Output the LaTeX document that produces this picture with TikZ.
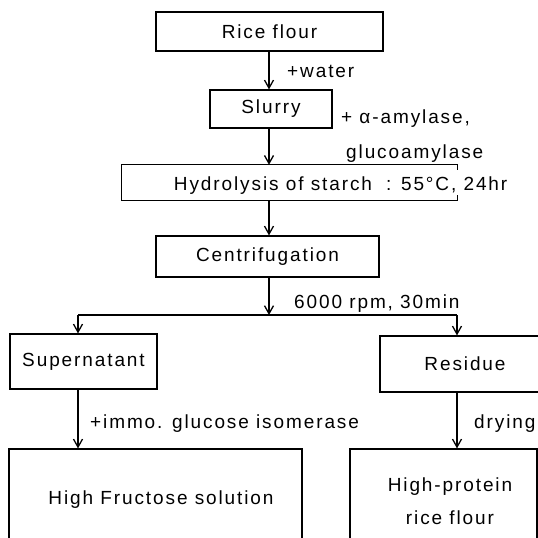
\documentclass[tikz,border=0pt]{standalone}
\usepackage{fontspec}
\setmainfont{Liberation Sans}
\newfontfamily\df[LetterSpace=10]{Liberation Sans}
\usetikzlibrary{arrows.meta}
\begin{document}
\begin{tikzpicture}[x=1pt,y=-1pt,
  txt/.style={font=\df\fontsize{19}{26}\selectfont},
  box/.style={draw, line width=1.2pt, inner sep=0pt, align=center, txt},
  lbl/.style={inner sep=0pt, txt},
  arr/.style={line width=1.3pt, -{Straight Barb[length=8pt,width=9pt,line width=1.3pt]}},
  ln/.style={line width=1.3pt}]
\useasboundingbox (0,0) rectangle (538,538);
\clip (0,0) rectangle (538,538);
% trunk columns
\coordinate (tx) at (269,0);
\coordinate (lx) at (78,0);
\coordinate (rx) at (457,0);
\coordinate (split) at (269,315);
% boxes
\node[box, minimum width=227pt, minimum height=39pt] (rice) at (269.5,31.5) {Rice flour};
\node[box, minimum width=122pt, minimum height=38pt] (slurry) at (271,109) {Slurry};
\node[inner sep=0pt, minimum width=335pt, minimum height=35pt] (hyd) at (289.5,182.5) {};
\draw[line width=1.2pt] ([yshift=-5pt]hyd.north east) -- (hyd.north east) -- (hyd.north west)
  -- (hyd.south west) -- (hyd.south east) -- ([yshift=5pt]hyd.south east);
\node[lbl, anchor=base] (hydt) at (273,190) {Hydrolysis of starch};
\node[lbl, anchor=base west] (hydc) at (386,190) {: 55°C, 24hr};
\node[box, minimum width=223pt, minimum height=41pt] (centr) at (267.5,256.5) {Centrifugation};
\node[box, minimum width=147pt, minimum height=55pt] (sup) at (83.5,361.5) {Supernatant};
\node[box, minimum width=170pt, minimum height=56pt] (res) at (465,364) {Residue};
\node[box, minimum width=293pt, minimum height=96pt] (hf) at (155.5,497) {};
\node[lbl, anchor=base] (hft) at (161,504) {High Fructose solution};
\node[box, minimum width=187pt, minimum height=96pt] (hp) at (443.5,497) {};
\node[lbl, anchor=base] (hpt1) at (450,491) {High-protein};
\node[lbl, anchor=base] (hpt2) at (450,524) {rice flour};
% labels
\node[lbl, anchor=base west] (water) at (287,77) {+water};
\node[lbl, anchor=base west] (amy) at (341,123) {+ α-amylase,};
\node[lbl, anchor=base west] (gluco) at (346,158) {glucoamylase};
\node[lbl, anchor=base west] (rpm) at (294,308) {6000 rpm, 30min};
\node[lbl, anchor=base west] (immo) at (90,428) {+immo. glucose isomerase};
\node[lbl, anchor=base west] (dry) at (474,428) {drying};
% connectors
\draw[arr] (rice.south -| tx) -- (slurry.north -| tx);
\draw[arr] (slurry.south -| tx) -- (hyd.north -| tx);
\draw[arr] (hyd.south -| tx) -- (centr.north -| tx);
\draw[arr] (centr.south -| tx) -- (split);
\draw[ln] (split -| lx) -- (split -| rx);
\draw[arr] (split -| lx) -- (sup.north -| lx);
\draw[arr] (split -| rx) -- (res.north -| rx);
\draw[arr] (sup.south -| lx) -- (hf.north -| lx);
\draw[arr] (res.south -| rx) -- (hp.north -| rx);
\end{tikzpicture}
\end{document}
